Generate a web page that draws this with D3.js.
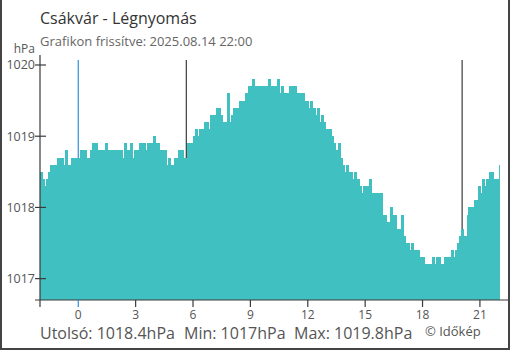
<!DOCTYPE html>
<html><head><meta charset="utf-8">
<script src="https://cdn.jsdelivr.net/npm/d3@7"></script>
<style>body{margin:0;background:#fff}svg{display:block;font-family:"Open Sans",sans-serif}</style>
</head><body><svg id="c" width="510" height="350"></svg>
<script>
// pressure readings (hPa), every 6 minutes starting 22:00 of previous day (hour -2)
const pressure = [
1018.5,1018.4,1018.3,1018.4,1018.5,1018.6,1018.6,1018.6,1018.6,1018.7,
1018.7,1018.7,1018.6,1018.8,1018.6,1018.6,1018.7,1018.6,1018.7,1018.7,
1018.7,1018.8,1018.8,1018.8,1018.7,1018.7,1018.8,1018.9,1018.8,1018.9,
1018.8,1018.8,1018.8,1018.8,1018.9,1018.8,1018.8,1018.8,1018.8,1018.8,
1018.8,1018.8,1018.8,1018.7,1018.9,1018.8,1018.8,1018.9,1018.7,1018.8,
1018.8,1018.8,1018.9,1018.9,1018.9,1018.8,1018.9,1018.9,1018.9,1019.0,
1018.9,1018.9,1018.7,1018.8,1018.8,1018.8,1018.6,1018.7,1018.6,1018.6,
1018.7,1018.7,1018.8,1018.8,1018.8,1018.7,1018.7,1018.9,1018.9,1018.9,
1019.0,1019.1,1019.0,1019.1,1019.1,1019.1,1019.2,1019.2,1019.1,1019.3,
1019.3,1019.3,1019.4,1019.4,1019.3,1019.2,1019.2,1019.2,1019.6,1019.2,
1019.3,1019.4,1019.4,1019.4,1019.5,1019.5,1019.5,1019.6,1019.6,1019.7,
1019.7,1019.8,1019.7,1019.7,1019.7,1019.7,1019.7,1019.7,1019.7,1019.8,
1019.7,1019.7,1019.7,1019.7,1019.8,1019.6,1019.7,1019.6,1019.6,1019.6,
1019.7,1019.6,1019.7,1019.7,1019.6,1019.6,1019.6,1019.6,1019.5,1019.5,
1019.4,1019.5,1019.4,1019.4,1019.3,1019.4,1019.2,1019.3,1019.2,1019.1,
1019.1,1019.1,1019.0,1018.9,1018.8,1018.8,1018.9,1018.7,1018.6,1018.5,
1018.6,1018.5,1018.5,1018.4,1018.5,1018.4,1018.4,1018.3,1018.2,1018.3,
1018.3,1018.3,1018.4,1018.2,1018.2,1018.2,1018.2,1018.1,1018.2,1017.9,
1017.9,1017.8,1017.8,1018.0,1017.9,1017.9,1017.7,1017.7,1017.7,1017.9,
1017.6,1017.5,1017.5,1017.4,1017.5,1017.4,1017.4,1017.4,1017.3,1017.3,
1017.3,1017.2,1017.2,1017.2,1017.2,1017.3,1017.2,1017.3,1017.3,1017.2,
1017.2,1017.3,1017.3,1017.3,1017.3,1017.4,1017.3,1017.4,1017.5,1017.6,
1017.7,1017.6,1017.6,1017.9,1018.0,1018.0,1018.0,1018.1,1018.1,1018.3,
1018.2,1018.4,1018.3,1018.4,1018.4,1018.5,1018.5,1018.4,1018.4,1018.4,
1018.6,1018.4
];
const startHour = -2;
const stepHour = 0.1;
const xTicks = [0, 3, 6, 9, 12, 15, 18, 21];
const yTicks = [1017, 1018, 1019, 1020];
const markerHours = [0, 5.65, 20.07];   // midnight, sunrise, sunset
const markerKinds = ["midnight", "sun", "sun"];
const title = "Csákvár - Légnyomás";
const subtitle = "Grafikon frissítve: 2025.08.14 22:00";
const unitLabel = "hPa";
const stats = ["Utolsó: 1018.4hPa", "Min: 1017hPa", "Max: 1019.8hPa"];
const credit = "© Időkép";

const svg = d3.select("#c");
const L = 40, R = 500, T = 65, B = 300;
const x = d3.scaleLinear().domain([-2, 22.05]).range([L, R]);
const y = d3.scaleLinear().domain([1016.7, 1020]).range([B, T]);
const barColor = "#41c0c2", blue = "#2b8fd6", dark = "#3a3a3a", txt = "#555";

svg.append("defs").append("clipPath").attr("id", "clip")
  .append("rect").attr("x", L).attr("y", 0).attr("width", R - L).attr("height", B);

// marker lines (behind bars)
svg.append("g").selectAll("line").data(markerHours).join("line")
  .attr("x1", d => x(d)).attr("x2", d => x(d))
  .attr("y1", 60).attr("y2", B)
  .attr("stroke", (d, i) => markerKinds[i] === "midnight" ? blue : dark)
  .attr("stroke-width", 1.2);

// bars
const data = pressure.map((v, i) => ({t: startHour + i * stepHour, v}));
svg.append("g").attr("clip-path", "url(#clip)").attr("shape-rendering", "crispEdges")
  .selectAll("rect").data(data).join("rect")
  .attr("x", d => x(d.t))
  .attr("width", d => x(d.t + stepHour) - x(d.t) + 1)
  .attr("y", d => y(d.v))
  .attr("height", d => B - y(d.v))
  .attr("fill", barColor);

// y axis
svg.append("line").attr("x1", L).attr("x2", L).attr("y1", 55).attr("y2", B)
  .attr("stroke", dark).attr("stroke-width", 1.2);
const yg = svg.append("g");
yg.selectAll("line").data(yTicks).join("line")
  .attr("x1", L - 5).attr("x2", L + 6)
  .attr("y1", d => y(d)).attr("y2", d => y(d))
  .attr("stroke", dark).attr("stroke-width", 1.2);
yg.selectAll("text").data(yTicks).join("text")
  .attr("x", L - 5).attr("y", d => y(d)).attr("dy", "0.35em")
  .attr("text-anchor", "end").attr("font-size", 12.5).attr("fill", txt)
  .text(d => d);
svg.append("text").attr("x", 35).attr("y", 53).attr("text-anchor", "end")
  .attr("font-size", 12).attr("fill", txt).text(unitLabel);

// x axis
svg.append("line").attr("x1", L - 5).attr("x2", 508).attr("y1", B).attr("y2", B)
  .attr("stroke", dark).attr("stroke-width", 1.2);
const xg = svg.append("g");
xg.selectAll("line").data([startHour].concat(xTicks)).join("line")
  .attr("x1", d => x(d)).attr("x2", d => x(d))
  .attr("y1", B).attr("y2", B + 7)
  .attr("stroke", d => d === 0 ? blue : dark).attr("stroke-width", 1.2);
xg.selectAll("text").data(xTicks).join("text")
  .attr("x", d => x(d)).attr("y", 319).attr("text-anchor", "middle")
  .attr("font-size", 12).attr("fill", txt).text(d => d);

// titles
svg.append("text").attr("x", 40).attr("y", 24).attr("font-size", 16).attr("fill", "#333").text(title);
svg.append("text").attr("x", 40).attr("y", 46).attr("font-size", 13).attr("fill", "#666").text(subtitle);

// stats
const statX = [40, 184, 294];
svg.append("g").selectAll("text").data(stats).join("text")
  .attr("x", (d, i) => statX[i]).attr("y", 339)
  .attr("font-size", 16).attr("fill", txt).text(d => d);
svg.append("text").attr("x", 425).attr("y", 336).attr("font-size", 13).attr("fill", txt).text(credit);

// frame
svg.append("path").attr("d", "M1,0V349H509V0").attr("fill", "none")
  .attr("stroke", "#444").attr("stroke-width", 2);
</script></body></html>
